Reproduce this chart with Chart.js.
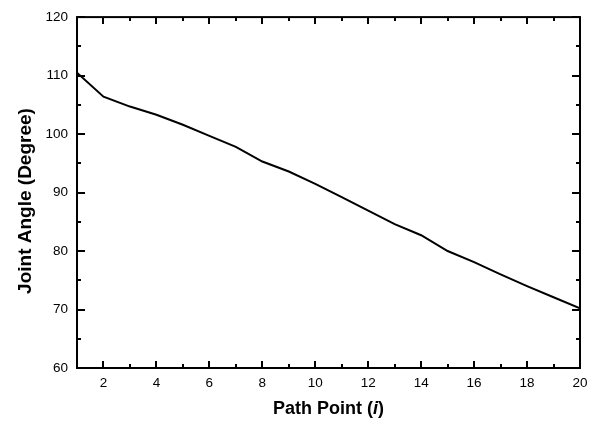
<!DOCTYPE html>
<html>
<head>
<meta charset="utf-8">
<script src="https://cdn.jsdelivr.net/npm/chart.js@4/dist/chart.umd.min.js"></script>
<style>
  html, body { margin: 0; padding: 0; background: #fff; }
  #wrap { width: 597px; height: 422px; }
</style>
</head>
<body>
<div id="wrap"><canvas id="c" width="597" height="422"></canvas></div>
<script>
// Joint angle along the path points
const pathPoints = [1, 2, 3, 4, 5, 6, 7, 8, 9, 10, 11, 12, 13, 14, 15, 16, 17, 18, 19, 20];
const jointAngle = [110.5, 106.4, 104.7, 103.3, 101.6, 99.7, 97.8, 95.3, 93.6, 91.5,
                    89.2, 86.9, 84.6, 82.7, 80.0, 78.1, 76.0, 74.0, 72.1, 70.2];

// Axis tick values
const xMajorTicks = [2, 4, 6, 8, 10, 12, 14, 16, 18, 20];
const xMinorTicks = [3, 5, 7, 9, 11, 13, 15, 17, 19];
const yMajorTicks = [60, 70, 80, 90, 100, 110, 120];
const yMinorTicks = [65, 75, 85, 95, 105, 115];

const FONT = '"Liberation Sans", Arial, sans-serif';

// Frame around the plot, inward ticks on all four sides, and both axis titles
const framePlugin = {
  id: 'frame',
  afterDatasetsDraw(chart) {
    const { ctx, chartArea: a, scales: { x, y } } = chart;
    ctx.save();
    ctx.strokeStyle = '#000';
    ctx.lineWidth = 2;
    ctx.lineCap = 'butt';
    ctx.beginPath();
    const tick = (px, len, vertical) => {
      if (vertical) {
        ctx.moveTo(px, a.bottom); ctx.lineTo(px, a.bottom - len);
        ctx.moveTo(px, a.top); ctx.lineTo(px, a.top + len);
      } else {
        ctx.moveTo(a.left, px); ctx.lineTo(a.left + len, px);
        ctx.moveTo(a.right, px); ctx.lineTo(a.right - len, px);
      }
    };
    xMajorTicks.forEach(v => tick(Math.round(x.getPixelForValue(v)), 7, true));
    xMinorTicks.forEach(v => tick(Math.round(x.getPixelForValue(v)), 4, true));
    yMajorTicks.forEach(v => tick(Math.round(y.getPixelForValue(v)), 8, false));
    yMinorTicks.forEach(v => tick(Math.round(y.getPixelForValue(v)), 4, false));
    ctx.stroke();
    ctx.strokeRect(a.left, a.top, a.right - a.left, a.bottom - a.top);

    ctx.fillStyle = '#000';
    ctx.textBaseline = 'middle';

    // x axis title with italic index
    const parts = [
      { t: 'Path Point (', f: 'bold 18px ' + FONT },
      { t: 'i', f: 'italic bold 18px ' + FONT },
      { t: ')', f: 'bold 18px ' + FONT }
    ];
    let total = 0;
    parts.forEach(p => { ctx.font = p.f; p.w = ctx.measureText(p.t).width; total += p.w; });
    let cx = (a.left + a.right) / 2 - total / 2;
    ctx.textAlign = 'left';
    parts.forEach(p => { ctx.font = p.f; ctx.fillText(p.t, cx, 409); cx += p.w; });

    // y axis title
    ctx.save();
    ctx.translate(26, 201);
    ctx.rotate(-Math.PI / 2);
    ctx.textAlign = 'center';
    ctx.font = 'bold 19px ' + FONT;
    ctx.fillText('Joint Angle (Degree)', 0, 0);
    ctx.restore();

    ctx.restore();
  }
};

new Chart(document.getElementById('c'), {
  type: 'line',
  data: {
    labels: pathPoints,
    datasets: [{
      data: pathPoints.map((p, i) => ({ x: p, y: jointAngle[i] })),
      borderColor: '#000',
      borderWidth: 2,
      pointRadius: 0,
      tension: 0,
      fill: false
    }]
  },
  options: {
    responsive: false,
    animation: false,
    devicePixelRatio: 1,
    layout: { padding: { left: 0, right: 17, top: 13, bottom: 0 } },
    plugins: { legend: { display: false }, tooltip: { enabled: false } },
    scales: {
      x: {
        type: 'linear',
        min: 1, max: 20,
        grid: { display: false, drawTicks: false },
        border: { display: false },
        afterBuildTicks: s => { s.ticks = xMajorTicks.map(v => ({ value: v })); },
        afterFit: s => { s.height = 54; },
        ticks: {
          color: '#000', padding: 7, maxRotation: 0, autoSkip: false,
          font: { family: FONT, size: 13.5 }
        }
      },
      y: {
        min: 60, max: 120,
        grid: { display: false, drawTicks: false },
        border: { display: false },
        afterBuildTicks: s => { s.ticks = yMajorTicks.map(v => ({ value: v })); },
        afterFit: s => { s.width = 77; },
        ticks: {
          color: '#000', padding: 9,
          font: { family: FONT, size: 13.5 }
        }
      }
    }
  },
  plugins: [framePlugin]
});
</script>
</body>
</html>
